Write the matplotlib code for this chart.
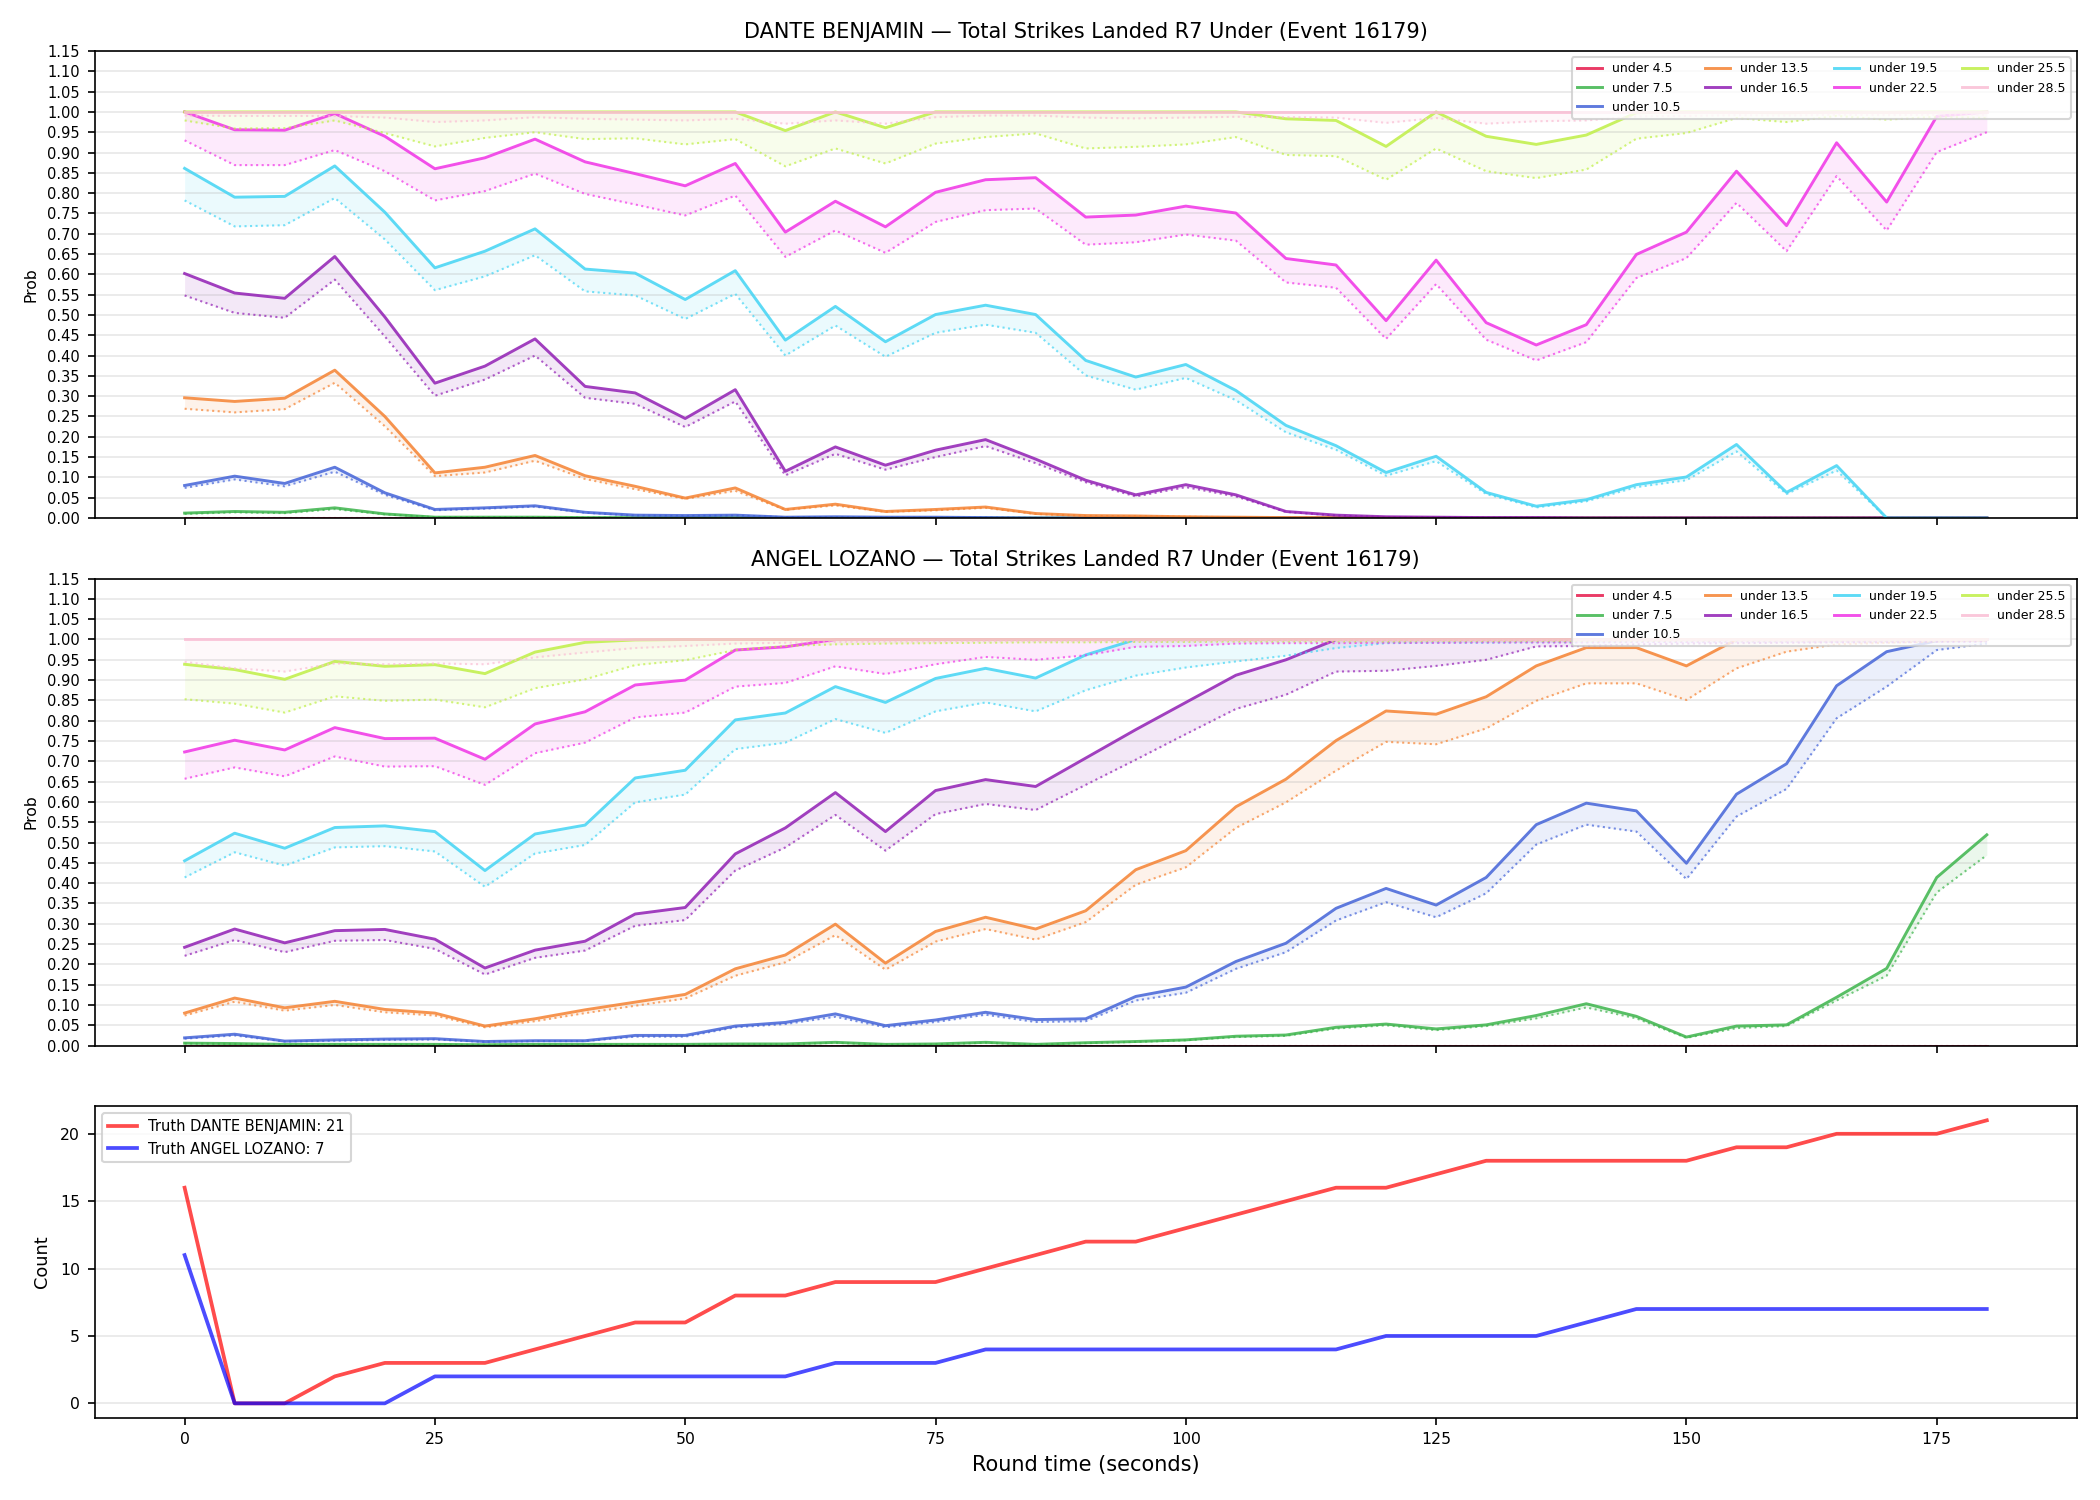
import numpy as np
import matplotlib
matplotlib.use("Agg")
import matplotlib.pyplot as plt

# time axis (seconds into the round)
t = list(range(0, 185, 5))

lines = ["under 4.5", "under 7.5", "under 10.5", "under 13.5", "under 16.5",
         "under 19.5", "under 22.5", "under 25.5", "under 28.5"]
colors = ["#e6194b", "#3cb44b", "#4363d8", "#f58231", "#911eb4",
          "#42d4f4", "#f032e6", "#bfef45", "#fabed4"]

Z = [0.0] * 37
ONE = [1.0] * 37

# ---- DANTE BENJAMIN : prob (solid) and lower band (dotted)
d_45 = Z
d_45_lo = Z
d_75 = [0.012, 0.016, 0.014, 0.025, 0.010, 0.002, 0.002, 0.002, 0.001, 0.001, 0.001, 0.001] + [0.0] * 25
d_75_lo = [0.010, 0.014, 0.012, 0.022, 0.009, 0.002, 0.002, 0.002, 0.001, 0.001, 0.001, 0.001] + [0.0] * 25
d_105 = [0.080, 0.103, 0.085, 0.125, 0.062, 0.021, 0.025, 0.030, 0.014, 0.007, 0.006, 0.007,
         0.002, 0.003, 0.002, 0.002, 0.001] + [0.0] * 20
d_105_lo = [0.074, 0.095, 0.078, 0.114, 0.057, 0.019, 0.023, 0.028, 0.013, 0.006, 0.005, 0.006,
            0.002, 0.002, 0.001, 0.001, 0.001] + [0.0] * 20
d_135 = [0.296, 0.287, 0.295, 0.364, 0.250, 0.111, 0.125, 0.154, 0.104, 0.078, 0.049, 0.074,
         0.021, 0.034, 0.016, 0.021, 0.027, 0.011, 0.006, 0.005, 0.003, 0.002, 0.001, 0.001,
         0.001] + [0.0] * 12
d_135_lo = [0.269, 0.260, 0.268, 0.333, 0.226, 0.103, 0.112, 0.141, 0.096, 0.071, 0.047, 0.067,
            0.020, 0.031, 0.015, 0.019, 0.025, 0.010, 0.005, 0.004, 0.003, 0.002, 0.001, 0.001,
            0.001] + [0.0] * 12
d_165 = [0.602, 0.554, 0.541, 0.644, 0.495, 0.332, 0.374, 0.441, 0.324, 0.308, 0.245, 0.316,
         0.115, 0.175, 0.130, 0.167, 0.193, 0.145, 0.093, 0.057, 0.082, 0.057, 0.016, 0.007,
         0.003, 0.002, 0.001, 0.001] + [0.0] * 9
d_165_lo = [0.548, 0.505, 0.493, 0.587, 0.447, 0.301, 0.341, 0.400, 0.296, 0.281, 0.224, 0.287,
            0.105, 0.158, 0.119, 0.150, 0.177, 0.135, 0.088, 0.053, 0.076, 0.053, 0.015, 0.006,
            0.002, 0.002, 0.001, 0.001] + [0.0] * 9
d_195 = [0.861, 0.790, 0.792, 0.867, 0.753, 0.616, 0.657, 0.712, 0.613, 0.603, 0.538, 0.609,
         0.438, 0.521, 0.434, 0.501, 0.524, 0.501, 0.388, 0.347, 0.378, 0.314, 0.228, 0.178,
         0.112, 0.152, 0.063, 0.029, 0.045, 0.082, 0.101, 0.181, 0.063, 0.129, 0.0, 0.0, 0.0]
d_195_lo = [0.782, 0.718, 0.721, 0.788, 0.686, 0.561, 0.595, 0.647, 0.558, 0.548, 0.490, 0.552,
            0.400, 0.474, 0.397, 0.456, 0.476, 0.456, 0.351, 0.316, 0.345, 0.290, 0.211, 0.168,
            0.104, 0.140, 0.059, 0.026, 0.041, 0.076, 0.093, 0.164, 0.059, 0.117, 0.0, 0.0, 0.0]
d_225 = [1.000, 0.956, 0.955, 0.996, 0.940, 0.860, 0.887, 0.933, 0.877, 0.848, 0.818, 0.873,
         0.704, 0.780, 0.717, 0.802, 0.833, 0.838, 0.741, 0.746, 0.768, 0.751, 0.639, 0.623,
         0.486, 0.635, 0.481, 0.426, 0.476, 0.649, 0.704, 0.854, 0.720, 0.924, 0.778, 0.989, 1.000]
d_225_lo = [0.930, 0.869, 0.869, 0.906, 0.854, 0.782, 0.805, 0.848, 0.798, 0.772, 0.745, 0.794,
            0.643, 0.708, 0.653, 0.729, 0.758, 0.762, 0.673, 0.679, 0.698, 0.683, 0.580, 0.567,
            0.441, 0.576, 0.439, 0.388, 0.433, 0.591, 0.640, 0.776, 0.657, 0.842, 0.708, 0.901, 0.950]
d_255 = [1.0, 1.0, 1.0, 1.0, 1.0, 1.0, 1.0, 1.0, 1.0, 1.0, 1.0, 1.0,
         0.954, 1.0, 0.961, 1.0, 1.0, 1.0, 1.0, 1.0, 1.0, 1.0, 0.983, 0.979,
         0.915, 1.0, 0.940, 0.920, 0.943, 0.998, 1.0, 0.999, 0.998, 1.0, 0.999, 1.0, 1.0]
d_255_lo = [0.979, 0.959, 0.960, 0.979, 0.948, 0.915, 0.936, 0.950, 0.933, 0.935, 0.920, 0.933,
            0.866, 0.910, 0.873, 0.922, 0.938, 0.947, 0.910, 0.914, 0.920, 0.938, 0.894, 0.891,
            0.833, 0.910, 0.854, 0.837, 0.858, 0.934, 0.948, 0.985, 0.975, 0.990, 0.981, 0.988, 0.985]
d_285 = ONE
d_285_lo = [0.991, 0.990, 0.990, 0.990, 0.986, 0.975, 0.979, 0.987, 0.983, 0.981, 0.979, 0.983,
            0.971, 0.979, 0.971, 0.987, 0.991, 0.991, 0.986, 0.984, 0.986, 0.988, 0.987, 0.986,
            0.973, 0.985, 0.971, 0.977, 0.979, 0.989, 0.990, 0.992, 0.991, 0.993, 0.992, 0.993, 0.993]

# ---- ANGEL LOZANO
a_45 = Z
a_45_lo = Z
a_75 = [0.006, 0.005, 0.003, 0.003, 0.003, 0.003, 0.002, 0.003, 0.003, 0.003, 0.003, 0.004,
        0.004, 0.008, 0.003, 0.004, 0.008, 0.003, 0.007, 0.010, 0.014, 0.023, 0.026, 0.045,
        0.053, 0.041, 0.051, 0.074, 0.103, 0.072, 0.021, 0.048, 0.051, 0.119, 0.190, 0.414, 0.519]
a_75_lo = [0.005, 0.004, 0.002, 0.002, 0.002, 0.002, 0.002, 0.002, 0.002, 0.002, 0.002, 0.003,
           0.003, 0.007, 0.002, 0.003, 0.007, 0.002, 0.006, 0.009, 0.013, 0.021, 0.024, 0.042,
           0.050, 0.038, 0.048, 0.067, 0.094, 0.067, 0.019, 0.043, 0.048, 0.111, 0.172, 0.377, 0.469]
a_105 = [0.019, 0.028, 0.011, 0.014, 0.016, 0.017, 0.010, 0.012, 0.012, 0.025, 0.025, 0.048,
         0.057, 0.078, 0.049, 0.063, 0.082, 0.064, 0.066, 0.121, 0.144, 0.207, 0.252, 0.338,
         0.387, 0.346, 0.414, 0.544, 0.597, 0.578, 0.449, 0.619, 0.694, 0.886, 0.970, 0.997, 1.000]
a_105_lo = [0.017, 0.025, 0.010, 0.012, 0.014, 0.015, 0.009, 0.011, 0.011, 0.022, 0.022, 0.045,
            0.053, 0.071, 0.045, 0.058, 0.076, 0.058, 0.060, 0.111, 0.130, 0.189, 0.230, 0.308,
            0.353, 0.316, 0.375, 0.495, 0.544, 0.527, 0.410, 0.564, 0.632, 0.806, 0.884, 0.974, 0.990]
a_135 = [0.080, 0.117, 0.093, 0.109, 0.089, 0.080, 0.048, 0.066, 0.088, 0.107, 0.126, 0.189,
         0.223, 0.299, 0.203, 0.281, 0.316, 0.287, 0.332, 0.433, 0.480, 0.588, 0.656, 0.751,
         0.824, 0.816, 0.859, 0.935, 0.980, 0.980, 0.935, 1.0, 1.0, 1.0, 1.0, 1.0, 1.0]
a_135_lo = [0.074, 0.108, 0.086, 0.100, 0.082, 0.074, 0.045, 0.060, 0.080, 0.098, 0.116, 0.172,
            0.205, 0.272, 0.187, 0.256, 0.287, 0.261, 0.304, 0.396, 0.439, 0.536, 0.599, 0.677,
            0.748, 0.742, 0.781, 0.849, 0.892, 0.892, 0.851, 0.929, 0.970, 0.988, 0.992, 0.995, 0.997]
a_165 = [0.242, 0.287, 0.253, 0.283, 0.286, 0.262, 0.191, 0.235, 0.257, 0.324, 0.340, 0.472,
         0.536, 0.623, 0.527, 0.628, 0.655, 0.638, 0.708, 0.778, 0.845, 0.912, 0.950, 1.0,
         1.0, 1.0, 1.0, 1.0, 1.0, 1.0, 1.0, 1.0, 1.0, 1.0, 1.0, 1.0, 1.0]
a_165_lo = [0.221, 0.260, 0.230, 0.258, 0.260, 0.238, 0.175, 0.216, 0.234, 0.295, 0.309, 0.431,
            0.488, 0.568, 0.480, 0.570, 0.595, 0.580, 0.642, 0.704, 0.767, 0.829, 0.864, 0.921,
            0.923, 0.935, 0.950, 0.983, 0.984, 0.988, 0.990, 0.991, 0.992, 0.993, 0.993, 0.994, 0.995]
a_195 = [0.455, 0.523, 0.486, 0.537, 0.541, 0.527, 0.431, 0.521, 0.543, 0.659, 0.678, 0.802,
         0.819, 0.884, 0.845, 0.904, 0.929, 0.905, 0.962, 1.0, 1.0, 1.0, 1.0, 1.0,
         1.0, 1.0, 1.0, 1.0, 1.0, 1.0, 1.0, 1.0, 1.0, 1.0, 1.0, 1.0, 1.0]
a_195_lo = [0.414, 0.476, 0.443, 0.488, 0.491, 0.478, 0.391, 0.473, 0.494, 0.599, 0.618, 0.730,
            0.746, 0.804, 0.770, 0.823, 0.845, 0.823, 0.875, 0.911, 0.931, 0.946, 0.960, 0.979,
            0.991, 0.992, 0.992, 0.993, 0.993, 0.994, 0.994, 0.995, 0.995, 0.995, 0.996, 0.996, 0.996]
a_225 = [0.723, 0.752, 0.728, 0.783, 0.756, 0.757, 0.705, 0.792, 0.822, 0.888, 0.900, 0.974,
         0.982, 1.0, 1.0, 1.0, 1.0, 1.0, 1.0, 1.0, 1.0, 1.0, 1.0, 1.0,
         1.0, 1.0, 1.0, 1.0, 1.0, 1.0, 1.0, 1.0, 1.0, 1.0, 1.0, 1.0, 1.0]
a_225_lo = [0.657, 0.685, 0.663, 0.712, 0.687, 0.688, 0.642, 0.720, 0.746, 0.808, 0.820, 0.884,
            0.893, 0.934, 0.915, 0.939, 0.957, 0.950, 0.961, 0.982, 0.984, 0.990, 0.991, 0.991,
            0.992, 0.992, 0.993, 0.993, 0.993, 0.994, 0.994, 0.995, 0.995, 0.995, 0.996, 0.996, 0.996]
a_255 = [0.939, 0.926, 0.902, 0.946, 0.934, 0.938, 0.916, 0.969, 0.993, 0.999, 1.0, 1.0,
         1.0, 1.0, 1.0, 1.0, 1.0, 1.0, 1.0, 1.0, 1.0, 1.0, 1.0, 1.0,
         1.0, 1.0, 1.0, 1.0, 1.0, 1.0, 1.0, 1.0, 1.0, 1.0, 1.0, 1.0, 1.0]
a_255_lo = [0.853, 0.842, 0.820, 0.860, 0.849, 0.852, 0.833, 0.880, 0.902, 0.937, 0.949, 0.974,
            0.984, 0.988, 0.990, 0.991, 0.992, 0.993, 0.993, 0.994, 0.994, 0.995, 0.995, 0.995,
            0.995, 0.996, 0.996, 0.996, 0.996, 0.996, 0.997, 0.997, 0.997, 0.997, 0.997, 0.997, 0.997]
a_285 = ONE
a_285_lo = [0.945, 0.929, 0.921, 0.941, 0.939, 0.941, 0.939, 0.956, 0.968, 0.979, 0.984, 0.990,
            0.992, 0.994, 0.995, 0.995, 0.996, 0.996, 0.996, 0.996, 0.996, 0.997, 0.997, 0.997,
            0.997, 0.997, 0.997, 0.997, 0.997, 0.997, 0.997, 0.997, 0.997, 0.997, 0.997, 0.997, 0.997]

# truth (cumulative strikes landed)
truth_dante = [16, 0, 0, 2, 3, 3, 3, 4, 5, 6, 6, 8, 8, 9, 9, 9, 10, 11, 12, 12, 13, 14, 15, 16,
               16, 17, 18, 18, 18, 18, 18, 19, 19, 20, 20, 20, 21]
truth_angel = [11, 0, 0, 0, 0, 2, 2, 2, 2, 2, 2, 2, 2, 3, 3, 3, 4, 4, 4, 4, 4, 4, 4, 4,
               5, 5, 5, 5, 6, 7, 7, 7, 7, 7, 7, 7, 7]

dante = [(d_45, d_45_lo), (d_75, d_75_lo), (d_105, d_105_lo), (d_135, d_135_lo), (d_165, d_165_lo),
         (d_195, d_195_lo), (d_225, d_225_lo), (d_255, d_255_lo), (d_285, d_285_lo)]
angel = [(a_45, a_45_lo), (a_75, a_75_lo), (a_105, a_105_lo), (a_135, a_135_lo), (a_165, a_165_lo),
         (a_195, a_195_lo), (a_225, a_225_lo), (a_255, a_255_lo), (a_285, a_285_lo)]

fig, axes = plt.subplots(3, 1, figsize=(14, 10), dpi=150, sharex=True,
                         gridspec_kw={"height_ratios": [3, 3, 2]})
fig.subplots_adjust(left=0.045, right=0.989, top=0.966, bottom=0.055, hspace=0.146)

def prob_panel(ax, data, name):
    for (p, lo), lab, c in zip(data, lines, colors):
        ax.plot(t, p, color=c, lw=1.4, alpha=0.85, label=lab)
        ax.plot(t, lo, color=c, lw=1.0, ls=":", alpha=0.7)
        ax.fill_between(t, lo, p, color=c, alpha=0.1, lw=0)
    ax.set_ylim(0, 1.15)
    ax.set_yticks(np.arange(0, 1.151, 0.05))
    ax.set_yticklabels([f"{v:.2f}" for v in np.arange(0, 1.151, 0.05)])
    ax.tick_params(labelsize=7)
    ax.set_ylabel("Prob", fontsize=7.5)
    ax.grid(axis="y", alpha=0.3)
    ax.set_title(f"{name} \u2014 Total Strikes Landed R7 Under (Event 16179)", fontsize=10)
    ax.legend(loc="upper right", ncol=4, fontsize=6)

prob_panel(axes[0], dante, "DANTE BENJAMIN")
prob_panel(axes[1], angel, "ANGEL LOZANO")

ax = axes[2]
ax.plot(t, truth_dante, color="red", lw=1.8, alpha=0.7, label=f"Truth DANTE BENJAMIN: {truth_dante[-1]}")
ax.plot(t, truth_angel, color="blue", lw=1.8, alpha=0.7, label=f"Truth ANGEL LOZANO: {truth_angel[-1]}")
ax.set_ylabel("Count", fontsize=8.5)
ax.set_xlabel("Round time (seconds)", fontsize=10)
ax.tick_params(labelsize=7.5)
ax.grid(axis="y", alpha=0.3)
ax.legend(loc="upper left", fontsize=7)

fig.savefig("out.png")
